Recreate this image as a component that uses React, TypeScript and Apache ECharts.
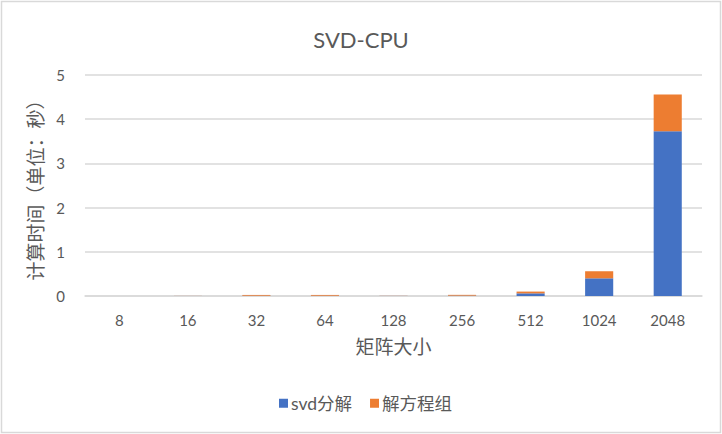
import React, { useEffect, useRef } from "react";
import * as echarts from "echarts";

const categories = ["8", "16", "32", "64", "128", "256", "512", "1024", "2048"];
const svdValues = [0.001, 0.001, 0.006, 0.006, 0.002, 0.008, 0.06, 0.4, 3.73];
const solveValues = [0.001, 0.002, 0.018, 0.018, 0.003, 0.018, 0.04, 0.16, 0.83];
const seriesNames = ["svd分解", "解方程组"];
const yMin = 0;
const yMax = 5;
const yInterval = 1;

const FONT = "Lato, 'Noto Sans CJK SC', sans-serif";
const TXT = "#595959";

export default function App() {
  const ref = useRef<HTMLDivElement>(null);
  useEffect(() => {
    document.body.style.margin = "0";
    const chart = echarts.init(ref.current!, null, { renderer: "svg" });
    chart.setOption({
      animation: false,
      backgroundColor: "#ffffff",
      textStyle: { fontFamily: FONT, color: TXT },
      title: {
        text: "SVD-CPU",
        left: "center",
        top: 23,
        textStyle: { fontFamily: FONT, color: TXT, fontSize: 22, fontWeight: "normal" },
      },
      graphic: [
        {
          type: "rect",
          shape: { x: 1.5, y: 1.5, width: 719, height: 431 },
          style: { fill: "none", stroke: "#d9d9d9", lineWidth: 1.5 },
          silent: true,
        },
      ],
      legend: {
        data: seriesNames,
        bottom: 17,
        left: 274,
        icon: "rect",
        itemWidth: 9,
        itemHeight: 9,
        itemGap: 18,
        textStyle: { fontFamily: FONT, color: TXT, fontSize: 17.5, padding: [0, 0, 0, -2] },
      },
      grid: { left: 85, right: 20, top: 75, bottom: 138 },
      xAxis: {
        type: "category",
        data: categories,
        name: "矩阵大小",
        nameLocation: "middle",
        nameGap: 41,
        nameTextStyle: { fontFamily: FONT, color: TXT, fontSize: 19 },
        axisLine: { lineStyle: { color: "#d9d9d9", width: 1.5 } },
        axisTick: { show: false },
        axisLabel: { color: TXT, fontSize: 15, margin: 16, fontFamily: FONT },
      },
      yAxis: {
        type: "value",
        min: yMin,
        max: yMax,
        interval: yInterval,
        name: "计算时间（单位：秒）",
        nameLocation: "middle",
        nameGap: 31,
        nameTextStyle: { fontFamily: FONT, color: TXT, fontSize: 19 },
        axisLine: { show: false },
        axisTick: { show: false },
        splitLine: { lineStyle: { color: "#d9d9d9", width: 1.5 } },
        axisLabel: { color: TXT, fontSize: 15, margin: 20, fontFamily: FONT },
      },
      series: [
        {
          name: seriesNames[0],
          type: "bar",
          stack: "total",
          data: svdValues,
          barWidth: "41%",
          itemStyle: { color: "#4472C4" },
        },
        {
          name: seriesNames[1],
          type: "bar",
          stack: "total",
          data: solveValues,
          barWidth: "41%",
          itemStyle: { color: "#ED7D31" },
        },
      ],
    });
    return () => chart.dispose();
  }, []);
  return <div ref={ref} style={{ width: 722, height: 434 }} />;
}
